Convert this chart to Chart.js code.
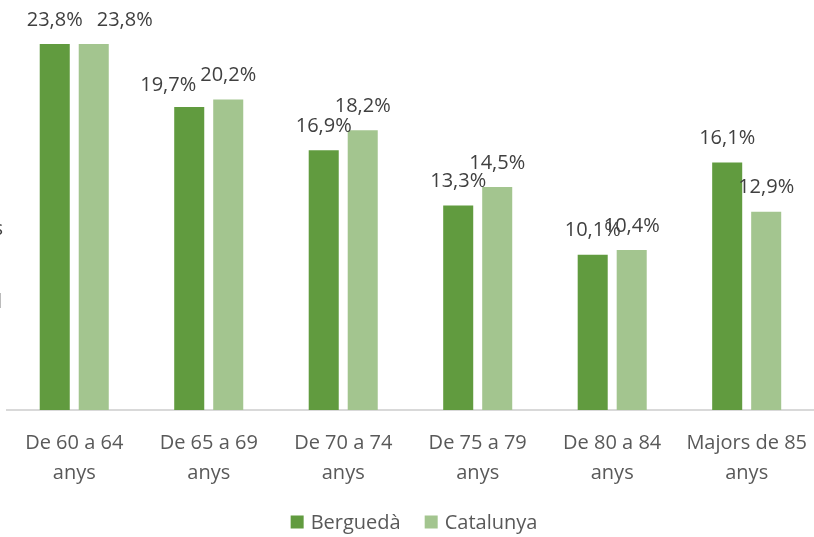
<!DOCTYPE html>
<html>
<head>
<meta charset="utf-8">
<script src="https://cdn.jsdelivr.net/npm/chart.js@4"></script>
<style>
  html, body { margin: 0; padding: 0; background: #fff; overflow: hidden; }
  #wrap { width: 817px; height: 537px; position: relative; }
</style>
</head>
<body>
<div id="wrap"><canvas id="ageChart"></canvas></div>
<script>
const categories = [
    ['De 60 a 64', 'anys'],
    ['De 65 a 69', 'anys'],
    ['De 70 a 74', 'anys'],
    ['De 75 a 79', 'anys'],
    ['De 80 a 84', 'anys'],
    ['Majors de 85', 'anys']
];
const bergueda = [23.8, 19.7, 16.9, 13.3, 10.1, 16.1];
const catalunya = [23.8, 20.2, 18.2, 14.5, 10.4, 12.9];

const FONT = '"Open Sans", sans-serif';

function fmt(v) {
    return v.toFixed(1).replace('.', ',') + '%';
}

// value labels above each bar, Excel style
const barLabels = {
    id: 'barLabels',
    afterDatasetsDraw(chart) {
        const ctx = chart.ctx;
        ctx.save();
        ctx.font = '20px ' + FONT;
        ctx.fillStyle = '#404040';
        ctx.textAlign = 'center';
        ctx.textBaseline = 'middle';
        chart.data.datasets.forEach((ds, di) => {
            chart.getDatasetMeta(di).data.forEach((bar, i) => {
                let x = bar.x;
                let y = bar.y - 24;
                // Excel nudged a couple of labels to avoid overlaps
                if (di === 0 && i === 1) { x -= 21; y += 2; }
                if (di === 1 && i === 0) { x += 31; }
                ctx.fillText(fmt(ds.data[i]), x, y);
            });
        });
        // clipped leftovers of a label at the left edge
        ctx.textAlign = 'right';
        ctx.fillText('s', 3, 229);
        ctx.fillText('l', 2, 302);
        ctx.restore();
    }
};

// legend drawn at the bottom, centred
const bottomLegend = {
    id: 'bottomLegend',
    afterDraw(chart) {
        const ctx = chart.ctx;
        ctx.save();
        ctx.font = '20px ' + FONT;
        ctx.textBaseline = 'middle';
        ctx.textAlign = 'left';
        const box = 13, gap = 7, space = 24;
        const items = chart.data.datasets.map(ds => ({
            text: ds.label, color: ds.backgroundColor, w: ctx.measureText(ds.label).width
        }));
        let total = items.reduce((s, it) => s + box + gap + it.w, 0) + space * (items.length - 1);
        let x = 414 - total / 2;
        const cy = 523;
        items.forEach(it => {
            ctx.fillStyle = it.color;
            ctx.fillRect(x, cy - box / 2 - 1, box, box);
            x += box + gap;
            ctx.fillStyle = '#595959';
            ctx.fillText(it.text, x, cy);
            x += it.w + space;
        });
        ctx.restore();
    }
};

const ctx = document.getElementById('ageChart').getContext('2d');
new Chart(ctx, {
    type: 'bar',
    data: {
        labels: categories,
        datasets: [{
            label: 'Berguedà',
            data: bergueda,
            backgroundColor: '#619B3F',
            categoryPercentage: 0.58,
            barPercentage: 0.77
        }, {
            label: 'Catalunya',
            data: catalunya,
            backgroundColor: '#A3C58F',
            categoryPercentage: 0.58,
            barPercentage: 0.77
        }]
    },
    options: {
        responsive: true,
        maintainAspectRatio: false,
        animation: false,
        layout: {
            padding: { top: 41, left: 7, right: 0, bottom: 39 }
        },
        scales: {
            x: {
                grid: { display: false },
                border: { display: true, color: '#D9D9D9', width: 2 },
                ticks: {
                    color: '#595959',
                    padding: 10,
                    maxRotation: 0,
                    font: { family: FONT, size: 20, lineHeight: 1.5 }
                }
            },
            y: {
                display: false,
                min: 0,
                max: 24
            }
        },
        plugins: {
            legend: { display: false },
            tooltip: { enabled: false }
        }
    },
    plugins: [barLabels, bottomLegend]
});
</script>
</body>
</html>
